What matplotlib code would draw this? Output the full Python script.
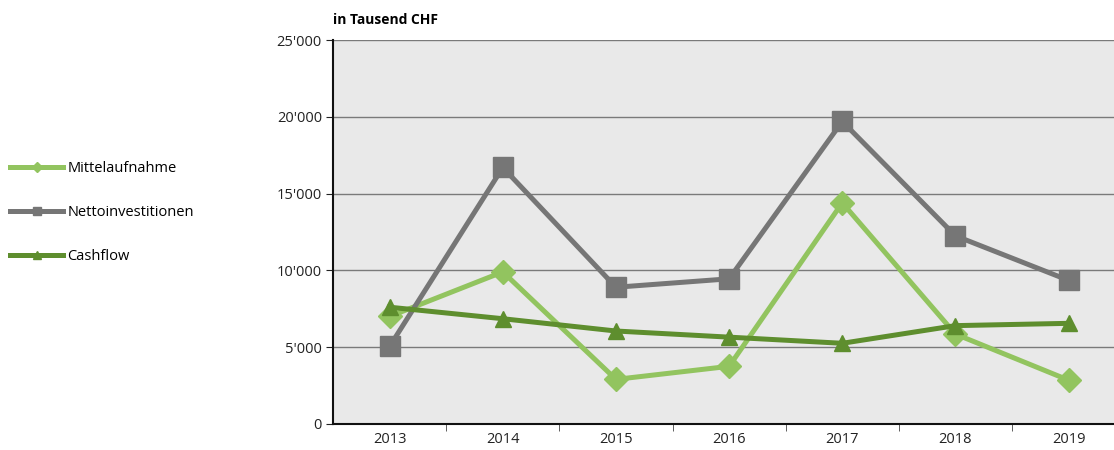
import matplotlib.pyplot as plt
from matplotlib.lines import Line2D

jahre = ['2013', '2014', '2015', '2016', '2017', '2018', '2019']
mittelaufnahme = [7000, 9900, 2900, 3750, 14400, 5850, 2850]
nettoinvestitionen = [5050, 16700, 8900, 9450, 19700, 12250, 9350]
cashflow = [7600, 6850, 6050, 5650, 5250, 6400, 6550]
y_ticks = [0, 5000, 10000, 15000, 20000, 25000]
y_labels = ['0', "5'000", "10'000", "15'000", "20'000", "25'000"]

hell = '#92c45f'
grau = '#767676'
dunkel = '#5e8e2e'

plt.rcParams['font.family'] = ['Open Sans', 'DejaVu Sans']

fig = plt.figure(figsize=(11.14, 4.5), dpi=100)
# Plotbereich reicht rechts etwas über den Bildrand hinaus (wie im Original)
ax = fig.add_axes([0.299, 0.058, 0.711, 0.853])
ax.set_facecolor('#e9e9e9')

x = list(range(len(jahre)))
ax.plot(x, mittelaufnahme, color=hell, lw=3.6, marker='D', ms=12, zorder=3)
ax.plot(x, nettoinvestitionen, color=grau, lw=3.6, marker='s', ms=14, zorder=3)
ax.plot(x, cashflow, color=dunkel, lw=3.6, marker='^', ms=11, zorder=4)

ax.set_xlim(-0.5, len(jahre) - 0.5)
ax.set_ylim(0, 25000)
ax.set_yticks(y_ticks)
ax.set_yticklabels(y_labels, fontsize=10.5, color='#222222')
ax.set_xticks(x)
ax.set_xticklabels(jahre, fontsize=10.5, color='#222222')
ax.tick_params(axis='x', length=0, pad=6)
ax.set_xticks([i + 0.5 for i in x], minor=True)
ax.tick_params(axis='x', which='minor', length=5, color='#444444')
ax.tick_params(axis='y', length=5, color='#222222', pad=3)
ax.yaxis.grid(True, color='#7a7a7a', lw=1)
ax.set_axisbelow(True)
for s in ['top', 'right']:
    ax.spines[s].set_visible(False)
ax.spines['left'].set_color('#111111')
ax.spines['left'].set_linewidth(1.5)
ax.spines['bottom'].set_color('#111111')
ax.spines['bottom'].set_linewidth(1.5)

fig.text(0.299, 0.955, 'in Tausend CHF', fontsize=10, fontweight='bold',
         ha='left', va='center')

handles = [
    Line2D([], [], color=hell, lw=3.6, marker='D', ms=5),
    Line2D([], [], color=grau, lw=3.6, marker='s', ms=6),
    Line2D([], [], color=dunkel, lw=3.6, marker='^', ms=6),
]
fig.legend(handles, ['Mittelaufnahme', 'Nettoinvestitionen', 'Cashflow'],
           loc='upper left', bbox_to_anchor=(0.004, 0.655), frameon=False,
           fontsize=10.5, handlelength=3.6, handletextpad=0.3, labelspacing=1.98,
           borderaxespad=0.0)

plt.savefig('out.png', dpi=100)
